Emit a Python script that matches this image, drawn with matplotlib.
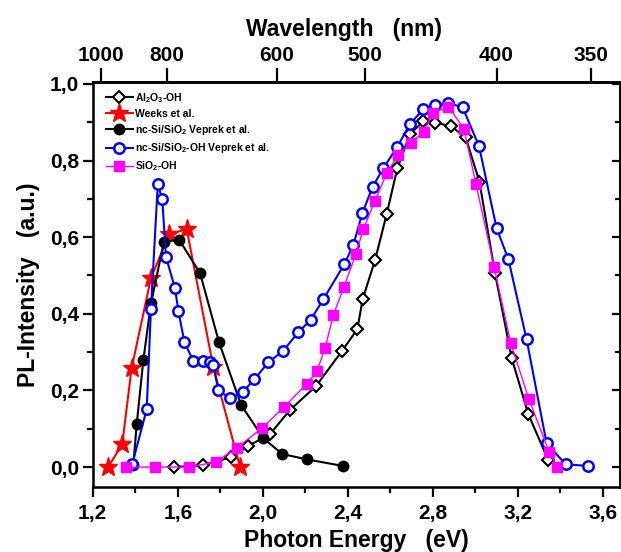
import numpy as np
import matplotlib
matplotlib.use('Agg')
import matplotlib.pyplot as plt
from matplotlib.ticker import MultipleLocator, FuncFormatter

plt.rcParams['font.family'] = ['Liberation Sans', 'DejaVu Sans']
plt.rcParams['font.weight'] = 'bold'
plt.rcParams['mathtext.fontset'] = 'custom'
plt.rcParams['mathtext.rm'] = 'Liberation Sans:bold'
plt.rcParams['mathtext.it'] = 'Liberation Sans:bold'
plt.rcParams['mathtext.bf'] = 'Liberation Sans:bold'
plt.rcParams['mathtext.default'] = 'rm'

# Al2O3-OH
al_e = [1.584, 1.717, 1.849, 1.932, 2.034, 2.128, 2.250, 2.374, 2.445, 2.470, 2.528, 2.583,
        2.633, 2.692, 2.755, 2.810, 2.884, 2.954, 3.019, 3.092, 3.171, 3.249, 3.343]
al_i = [0.0, 0.005, 0.025, 0.055, 0.086, 0.149, 0.211, 0.304, 0.360, 0.439, 0.540, 0.661,
        0.780, 0.869, 0.902, 0.899, 0.890, 0.861, 0.745, 0.507, 0.284, 0.138, 0.018]

# Weeks et al.
wk_e = [1.273, 1.339, 1.383, 1.474, 1.560, 1.642, 1.767, 1.893]
wk_i = [0.0, 0.060, 0.258, 0.493, 0.608, 0.621, 0.262, 0.0]

# nc-Si/SiO2 Veprek et al.
vp_e = [1.391, 1.407, 1.438, 1.474, 1.535, 1.607, 1.705, 1.794, 1.898, 2.003, 2.092, 2.207, 2.376]
vp_i = [0.005, 0.112, 0.279, 0.427, 0.588, 0.593, 0.506, 0.326, 0.162, 0.075, 0.034, 0.020, 0.003]

# nc-Si/SiO2-OH Veprek et al.
vo_e = [1.386, 1.454, 1.474, 1.506, 1.527, 1.545, 1.587, 1.603, 1.631, 1.673, 1.720, 1.752,
        1.767, 1.791, 1.846, 1.908, 1.960, 2.026, 2.097, 2.167, 2.225, 2.285, 2.383, 2.426,
        2.468, 2.517, 2.567, 2.633, 2.692, 2.755, 2.810, 2.873, 2.940, 3.017, 3.100, 3.155,
        3.241, 3.335, 3.425, 3.531]
vo_i = [0.008, 0.151, 0.413, 0.738, 0.699, 0.548, 0.467, 0.407, 0.327, 0.277, 0.277, 0.275,
        0.266, 0.201, 0.179, 0.197, 0.229, 0.273, 0.304, 0.352, 0.384, 0.438, 0.529, 0.580,
        0.662, 0.732, 0.780, 0.836, 0.895, 0.934, 0.945, 0.950, 0.939, 0.838, 0.623, 0.543,
        0.333, 0.062, 0.007, 0.003]

# SiO2-OH
so_e = [1.355, 1.493, 1.654, 1.779, 1.877, 1.995, 2.100, 2.209, 2.255, 2.293, 2.332, 2.382,
        2.438, 2.473, 2.528, 2.583, 2.637, 2.696, 2.758, 2.799, 2.873, 2.946, 3.003, 3.088,
        3.166, 3.252, 3.348, 3.385]
so_i = [0.0, 0.0, 0.0, 0.013, 0.050, 0.101, 0.157, 0.218, 0.251, 0.310, 0.397, 0.471,
        0.556, 0.621, 0.695, 0.767, 0.815, 0.847, 0.875, 0.923, 0.941, 0.883, 0.738, 0.523,
        0.325, 0.177, 0.038, 0.001]

wavelengths = [1000, 800, 600, 500, 400, 350]

fig = plt.figure(figsize=(6.21, 5.52), dpi=100)
ax = fig.add_axes([0.1493, 0.1178, 0.9976 - 0.1493, 0.8514 - 0.1178])

ax.plot(al_e, al_i, color='black', lw=1.5, marker='D', ms=6, mfc='white', mec='black', mew=1.5,
        label=r'Al$_2$O$_3$-OH')
ax.plot(wk_e, wk_i, color='#ff0000', lw=1.5, marker='*', ms=14, label='Weeks et al.')
ax.plot(vp_e, vp_i, color='black', lw=1.5, marker='o', ms=7.5, label=r'nc-Si/SiO$_2$ Veprek et al.')
ax.plot(vo_e, vo_i, color='#0000ff', lw=1.5, marker='o', ms=7.5, mfc='white', mew=1.8,
        label=r'nc-Si/SiO$_2$-OH Veprek et al.')
ax.plot(so_e, so_i, color='#ff00ff', lw=1.0, marker='s', ms=6.5, label=r'SiO$_2$-OH')

ax.set_xlim(1.2, 3.678)
ax.set_ylim(-0.052, 1.005)

fmt = FuncFormatter(lambda v, p: f'{v:.1f}'.replace('.', ','))
ax.xaxis.set_major_locator(MultipleLocator(0.4))
ax.xaxis.set_minor_locator(MultipleLocator(0.2))
ax.yaxis.set_major_locator(MultipleLocator(0.2))
ax.yaxis.set_minor_locator(MultipleLocator(0.1))
ax.xaxis.set_major_formatter(fmt)
ax.yaxis.set_major_formatter(fmt)

ax.tick_params(axis='both', which='major', direction='out', length=7, width=1.6,
               labelsize=15, pad=3, top=False, right=False)
ax.tick_params(axis='x', which='major', pad=5)
ax.tick_params(axis='both', which='minor', direction='out', length=4, width=1.6,
               top=False, right=False)
for s in ax.spines.values():
    s.set_linewidth(1.8)

ax.set_xlabel('Photon Energy   (eV)', fontsize=16.5, fontweight='bold')
ax.set_ylabel('PL-Intensity   (a.u.)', fontsize=16.5, fontweight='bold')
ax.xaxis.set_label_coords(0.501, -0.105)
ax.yaxis.set_label_coords(-0.100, 0.5)

# right side ticks pointing inward, no labels
axr = ax.secondary_yaxis('right')
axr.yaxis.set_major_locator(MultipleLocator(0.2))
axr.yaxis.set_minor_locator(MultipleLocator(0.1))
axr.tick_params(which='major', direction='in', length=6, width=1.6, labelright=False)
axr.tick_params(which='minor', direction='in', length=3.5, width=1.6)
axr.spines['right'].set_linewidth(1.8)

# wavelength axis on top
ax2 = ax.twiny()
ax2.set_xlim(ax.get_xlim())
ax2.set_xticks([1239.84 / w for w in wavelengths])
ax2.set_xticklabels([str(w) for w in wavelengths])
ax2.tick_params(axis='x', direction='out', length=10, width=1.6, labelsize=15, pad=2)
ax2.spines['top'].set_linewidth(1.8)
ax2.set_xlabel('Wavelength   (nm)', fontsize=16.5, fontweight='bold')
ax2.xaxis.set_label_coords(0.477, 1.113)

ax.legend(loc='upper left', bbox_to_anchor=(0.025, 0.978), frameon=False,
          handlelength=2.6, handletextpad=0.2, labelspacing=0.4, borderpad=0,
          borderaxespad=0, prop={'weight': 'bold', 'size': 7.5})

fig.savefig('out.png', dpi=100)
